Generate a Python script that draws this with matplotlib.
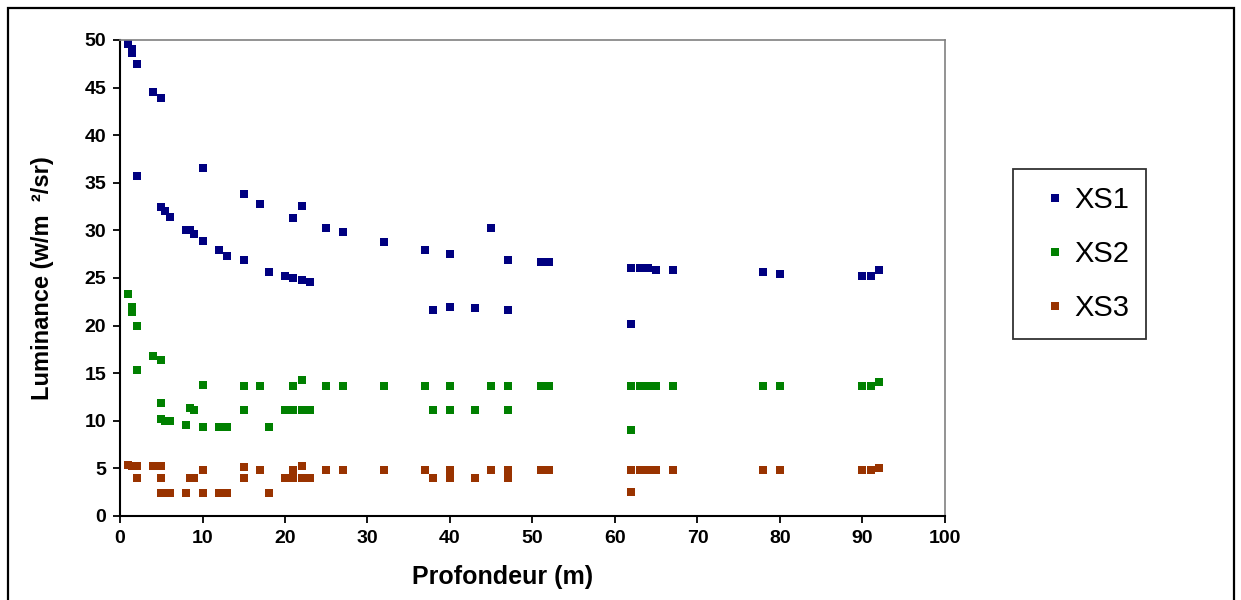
import matplotlib
matplotlib.use("Agg")
import matplotlib.pyplot as plt
from matplotlib.lines import Line2D
from matplotlib.patches import Rectangle

plt.rcParams['font.family'] = ['Liberation Sans', 'DejaVu Sans']

# XS1
xs1_x = [1, 1.5, 1.5, 2, 2, 4, 5, 5, 5.5, 6, 8, 8.5, 9, 10, 10, 12, 13, 15, 15, 17, 18, 20,
         21, 21, 22, 22, 23, 25, 27, 32, 37, 38, 40, 40, 43, 45, 47, 47, 51, 52,
         62, 62, 63, 64, 65, 67, 78, 80, 90, 91, 92]
xs1_y = [49.6, 49.1, 48.6, 47.5, 35.7, 44.5, 43.9, 32.5, 32.0, 31.4, 30.0, 30.0, 29.6, 28.9, 36.6,
         27.9, 27.3, 26.9, 33.8, 32.8, 25.6, 25.2,
         25.0, 31.3, 24.8, 32.6, 24.6, 30.3, 29.8, 28.8, 27.9, 21.6, 27.5, 22.0, 21.8, 30.3, 26.9, 21.6,
         26.7, 26.7, 26.05, 20.2, 26.05, 26.05, 25.8, 25.8, 25.6, 25.4, 25.2, 25.2, 25.8]

# XS2
xs2_x = [1, 1.5, 1.5, 2, 2, 4, 5, 5, 5, 5.5, 6, 8, 8.5, 9, 10, 10, 12, 13, 15, 15, 17, 18,
         20, 21, 21, 22, 22, 23, 25, 27, 32, 37, 38, 40, 40, 43, 45, 47, 47, 51, 52,
         62, 62, 63, 64, 65, 67, 78, 80, 90, 91, 92]
xs2_y = [23.3, 22.0, 21.4, 20.0, 15.3, 16.8, 16.4, 11.9, 10.2, 10.0, 10.0, 9.6, 11.3, 11.1, 9.4, 13.8,
         9.4, 9.4, 13.7, 11.1, 13.7, 9.4,
         11.1, 13.7, 11.1, 14.3, 11.1, 11.1, 13.7, 13.7, 13.7, 13.7, 11.1, 13.7, 11.1, 11.1, 13.7, 13.7, 11.1,
         13.7, 13.7, 13.7, 9.0, 13.7, 13.7, 13.7, 13.7, 13.7, 13.7, 13.7, 13.7, 14.1]

# XS3
xs3_x = [1, 1.5, 2, 2, 4, 5, 5, 5, 5.5, 6, 8, 8.5, 9, 10, 10, 12, 13, 15, 15, 17, 18,
         20, 21, 21, 22, 22, 23, 25, 27, 32, 37, 38, 40, 40, 43, 45, 47, 47, 51, 52,
         62, 62, 63, 64, 65, 67, 78, 80, 90, 91, 92]
xs3_y = [5.4, 5.3, 5.2, 4.0, 5.2, 5.2, 4.0, 2.4, 2.4, 2.4, 2.4, 4.0, 4.0, 4.8, 2.4, 2.4, 2.4, 5.1, 4.0, 4.8, 2.4,
         4.0, 4.8, 4.0, 5.2, 4.0, 4.0, 4.8, 4.8, 4.8, 4.8, 4.0, 4.8, 4.0, 4.0, 4.8, 4.8, 4.0, 4.8, 4.8,
         4.8, 2.5, 4.8, 4.8, 4.8, 4.8, 4.8, 4.8, 4.8, 4.8, 5.0]

series = [("XS1", xs1_x, xs1_y, "#000080"),
          ("XS2", xs2_x, xs2_y, "#008000"),
          ("XS3", xs3_x, xs3_y, "#993300")]

W, H = 1241, 600
fig = plt.figure(figsize=(W / 100, H / 100), dpi=100)
ax = fig.add_axes([120 / W, 1 - 516 / H, 825 / W, 476 / H])

for name, x, y, c in series:
    ax.plot(x, y, linestyle="none", marker="s", markersize=5.6, color=c,
            markeredgewidth=0, label=name, clip_on=False)

ax.set_xlim(0, 100)
ax.set_ylim(0, 50)
ax.set_xticks(range(0, 101, 10))
ax.set_yticks(range(0, 51, 5))
ax.tick_params(direction="out", length=5, width=1.3, colors="black", labelsize=14, pad=5)
for lab in ax.get_xticklabels() + ax.get_yticklabels():
    lab.set_fontweight("bold")

for s in ["left", "bottom"]:
    ax.spines[s].set_color("black")
    ax.spines[s].set_linewidth(1.5)
for s in ["top", "right"]:
    ax.spines[s].set_color("#808080")
    ax.spines[s].set_linewidth(1.2)

ax.set_xlabel("Profondeur (m)", fontsize=18, fontweight="bold")
ax.set_ylabel("Luminance (w/m  \u00b2/sr)", fontsize=17, fontweight="bold")
ax.xaxis.set_label_coords((503 - 120) / 825, -(577 - 516) / 476)
ax.yaxis.set_label_coords(-(120 - 42) / 825, 0.5)
ax.xaxis.label.set_va("center")
ax.yaxis.label.set_va("center")

handles = [Line2D([], [], linestyle="none", marker="s", markersize=5.6, color=c,
                  markeredgewidth=0) for _, _, _, c in series]
leg = fig.legend(handles, [s[0] for s in series], loc="center left",
                 bbox_to_anchor=(1013 / W, 1 - 254 / H), bbox_transform=fig.transFigure,
                 borderaxespad=0,
                 fontsize=21, frameon=True, fancybox=False, edgecolor="black",
                 labelspacing=0.89, borderpad=0.585, handlelength=1.7, handletextpad=-0.195)
leg.get_frame().set_linewidth(1.3)

# outer border of the chart area
fig.patches.append(Rectangle((8 / W, -0.05), 1226 / W, 1.05 - 8 / H,
                             transform=fig.transFigure, fill=False,
                             edgecolor="black", linewidth=1.6))

fig.savefig("out.png", dpi=100)
